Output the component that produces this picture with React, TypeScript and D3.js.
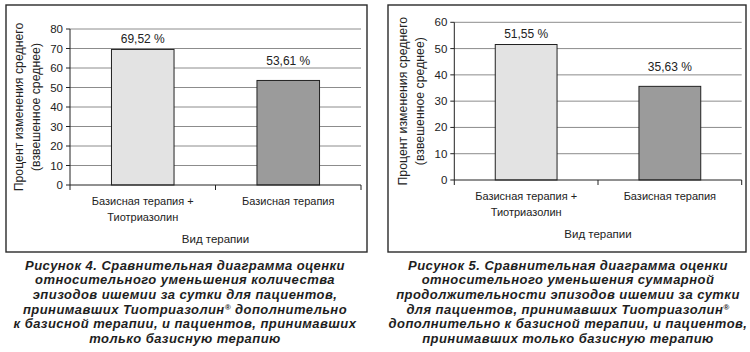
import * as d3 from "d3"

const categories = ["Базисная терапия + Тиотриазолин", "Базисная терапия"]
const categoryLines = [["Базисная терапия +", "Тиотриазолин"], ["Базисная терапия"]]
const fig4Values = [69.52, 53.61]
const fig5Values = [51.55, 35.63]
const fig4Ticks = [0, 10, 20, 30, 40, 50, 60, 70, 80]
const fig5Ticks = [0, 10, 20, 30, 40, 50, 60]
const valueLabels4 = ["69,52 %", "53,61 %"]
const valueLabels5 = ["51,55 %", "35,63 %"]
const yTitle = ["Процент изменения среднего", "(взвешенное среднее)"]
const xTitle = "Вид терапии"
const caption4 = [
  "Рисунок 4. Сравнительная диаграмма оценки",
  "относительного уменьшения количества",
  "эпизодов ишемии за сутки для пациентов,",
  "принимавших Тиотриазолин® дополнительно",
  "к базисной терапии, и пациентов, принимавших",
  "только базисную терапию",
]
const caption5 = [
  "Рисунок 5. Сравнительная диаграмма оценки",
  "относительного уменьшения суммарной",
  "продолжительности эпизодов ишемии за сутки",
  "для пациентов, принимавших Тиотриазолин®",
  "дополнительно к базисной терапии, и пациентов,",
  "принимавших только базисную терапию",
]

const barFills = ["#e3e3e3", "#9b9b9b"]
const font = "'Liberation Sans', Arial, sans-serif"

interface PanelProps {
  box: [number, number, number, number]
  plot: [number, number, number, number]
  values: number[]
  ticks: number[]
  labels: string[]
  caption: string[]
  captionX: number
}

// splits a caption line so the ® sign can be raised
function captionLine(l: string) {
  const parts = l.split("®")
  if (parts.length === 1) return l
  return (
    <>
      {parts[0]}
      <tspan fontSize={8} dy={-4}>®</tspan>
      <tspan dy={4}>{parts[1]}</tspan>
    </>
  )
}

function Panel({ box, plot, values, ticks, labels, caption, captionX }: PanelProps) {
  const [x0, y0, x1, y1] = plot
  const x = d3.scaleBand<string>()
    .domain(categories)
    .range([x0, x1])
    .paddingInner(0.57)
    .paddingOuter(0.285)
  const y = d3.scaleLinear()
    .domain([0, d3.max(ticks) || 1])
    .range([y1, y0])
  const step = (x1 - x0) / categories.length
  const labelDy = [6.5, 15.5]
  const midY = (y0 + y1) / 2

  return (
    <g fontFamily={font}>
      <rect x={box[0]} y={box[1]} width={box[2] - box[0]} height={box[3] - box[1]}
        fill="#fff" stroke="#2a2a2a" strokeWidth={1.4} />

      {ticks.map(t => (
        <g key={t}>
          {t > 0 && <line x1={x0} x2={x1} y1={y(t)} y2={y(t)} stroke="#8c8c8c" strokeWidth={1} />}
          <line x1={x0 - 4} x2={x0} y1={y(t)} y2={y(t)} stroke="#222" strokeWidth={1} />
          <text x={x0 - 7} y={y(t) + 4} fontSize={11.5} textAnchor="end" fill="#222">{t}</text>
        </g>
      ))}

      {values.map((v, i) => (
        <g key={i}>
          <rect x={x(categories[i])!} y={y(v)} width={x.bandwidth()} height={y(0) - y(v)}
            fill={barFills[i]} stroke="#222" strokeWidth={1} />
          <text x={x(categories[i])! + x.bandwidth() / 2} y={y(v) - labelDy[i]}
            fontSize={12} textAnchor="middle" fill="#222">{labels[i]}</text>
        </g>
      ))}

      <line x1={x0} x2={x0} y1={y0} y2={y1} stroke="#222" strokeWidth={1} />
      <line x1={x0} x2={x1} y1={y1} y2={y1} stroke="#222" strokeWidth={1} />
      {d3.range(categories.length + 1).map(i => (
        <line key={i} x1={x0 + i * step} x2={x0 + i * step} y1={y1} y2={y1 + 5} stroke="#222" strokeWidth={1} />
      ))}

      {categoryLines.map((lines, i) => (
        <text key={i} x={x(categories[i])! + x.bandwidth() / 2} y={y1 + 20}
          fontSize={11} textAnchor="middle" fill="#222">
          {lines.map((l, j) => (
            <tspan key={j} x={x(categories[i])! + x.bandwidth() / 2} dy={j === 0 ? 0 : 15.5}>{l}</tspan>
          ))}
        </text>
      ))}

      <text x={(x0 + x1) / 2} y={y1 + 57.7} fontSize={11.5} textAnchor="middle" fill="#222">{xTitle}</text>

      {yTitle.map((l, j) => (
        <text key={j} transform={`translate(${x0 - 47 + j * 16.5},${midY}) rotate(-90)`}
          fontSize={12.3} textAnchor="middle" fill="#222">{l}</text>
      ))}

      {caption.map((l, j) => (
        <text key={j} x={captionX} y={269.5 + j * 14.7} fontSize={13} fontWeight="bold"
          fontStyle="italic" letterSpacing={0.45} textAnchor="middle" fill="#1e1e1e">{captionLine(l)}</text>
      ))}
    </g>
  )
}

export default function App() {
  return (
    <svg width={750} height={352} style={{ position: "absolute", left: 0, top: 0, background: "#fff" }}>
      <rect width={750} height={352} fill="#fff" />
      <Panel box={[6, 5, 367, 252]} plot={[70, 29, 361, 185]} values={fig4Values}
        ticks={fig4Ticks} labels={valueLabels4} caption={caption4} captionX={185} />
      <Panel box={[388, 5, 746, 252]} plot={[454.3, 22.3, 741.7, 180]} values={fig5Values}
        ticks={fig5Ticks} labels={valueLabels5} caption={caption5} captionX={568} />
    </svg>
  )
}
